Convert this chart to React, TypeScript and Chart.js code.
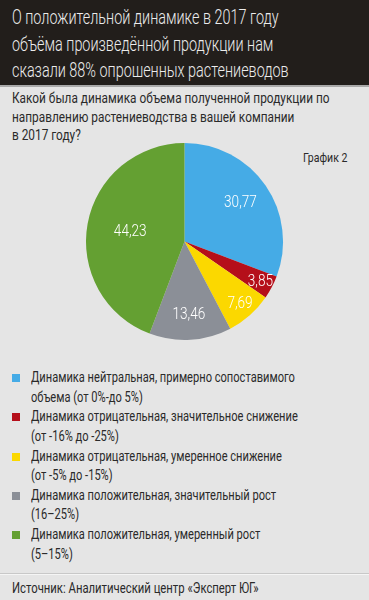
import React, { useEffect, useRef } from "react";
import { Chart, registerables } from "chart.js";

Chart.register(...registerables);

const titleLines = [
  "О положительной динамике в 2017 году",
  "объёма произведённой продукции нам",
  "сказали 88% опрошенных растениеводов",
];
const questionLines = [
  "Какой была динамика объема полученной продукции по",
  "направлению растениеводства в вашей компании",
  "в 2017 году?",
];
const chartLabel = "График 2";
const categories = [
  "Динамика нейтральная, примерно сопоставимого\nобъема (от 0%-до 5%)",
  "Динамика отрицательная, значительное снижение\n(от -16% до -25%)",
  "Динамика отрицательная, умеренное снижение\n(от -5% до -15%)",
  "Динамика положительная, значительный рост\n(16–25%)",
  "Динамика положительная, умеренный рост\n(5–15%)",
];
const values = [30.77, 3.85, 7.69, 13.46, 44.23];
const colors = ["#45abe6", "#b50f1a", "#fbd800", "#8b8f97", "#64a032"];
const source = "Источник: Аналитический центр «Эксперт ЮГ»";

const FONT = "Roboto, sans-serif";
const labelRadius = [0.69, 0.87, 0.85, 0.74, 0.56];

const valueLabels = {
  id: "valueLabels",
  afterDatasetsDraw(chart: any) {
    const ctx = chart.ctx;
    const meta = chart.getDatasetMeta(0);
    ctx.save();
    ctx.fillStyle = "#ffffff";
    ctx.font = "300 17px " + FONT;
    ctx.textAlign = "center";
    ctx.textBaseline = "middle";
    meta.data.forEach((arc: any, i: number) => {
      const { x, y, startAngle, endAngle, outerRadius } = arc.getProps(
        ["x", "y", "startAngle", "endAngle", "outerRadius"],
        true
      );
      const mid = (startAngle + endAngle) / 2;
      const r = outerRadius * labelRadius[i];
      const txt = values[i].toFixed(2).replace(".", ",");
      ctx.save();
      ctx.translate(x + Math.cos(mid) * r, y + Math.sin(mid) * r);
      ctx.scale(0.8, 1);
      ctx.fillText(txt, 0, 0);
      ctx.restore();
    });
    ctx.restore();
  },
};

const cond = (sx: number): React.CSSProperties => ({
  transform: `scaleX(${sx})`,
  transformOrigin: "left top",
  whiteSpace: "pre",
});

export default function App() {
  const ref = useRef<HTMLCanvasElement>(null);
  useEffect(() => {
    document.body.style.margin = "0";
    const chart = new Chart(ref.current!, {
      type: "pie",
      data: {
        labels: categories,
        datasets: [
          {
            data: values,
            backgroundColor: colors,
            borderWidth: 0,
          },
        ],
      },
      options: {
        animation: false,
        responsive: false,
        maintainAspectRatio: false,
        layout: { padding: 7 },
        plugins: {
          legend: { display: false },
          tooltip: { enabled: false },
        },
      },
      plugins: [valueLabels],
    });
    return () => chart.destroy();
  }, []);

  return (
    <div
      style={{
        position: "absolute",
        left: 0,
        top: 0,
        width: 369,
        height: 600,
        background: "#e5e5e5",
        fontFamily: FONT,
        overflow: "hidden",
      }}
    >
      <div
        style={{
          position: "absolute",
          left: 0,
          top: 0,
          width: 369,
          height: 85,
          background: "#221e1b",
          borderBottom: "2px solid #a9a9a9",
        }}
      >
        <div
          style={{
            position: "absolute",
            left: 12,
            top: 4,
            color: "#ececec",
            fontSize: 20,
            fontWeight: 300,
            lineHeight: "26.5px",
            ...cond(0.72),
          }}
        >
          {titleLines.join("\n")}
        </div>
      </div>
      <div
        style={{
          position: "absolute",
          left: 12,
          top: 89,
          color: "#2a2a2a",
          fontSize: 14.8,
          lineHeight: "18.5px",
          ...cond(0.8),
        }}
      >
        {questionLines.join("\n")}
      </div>
      <div
        style={{
          position: "absolute",
          left: 303,
          top: 149,
          color: "#2a2a2a",
          fontSize: 13.5,
          lineHeight: "16px",
          ...cond(0.78),
        }}
      >
        {chartLabel}
      </div>
      <canvas
        ref={ref}
        width={369}
        height={211}
        style={{ position: "absolute", left: 0, top: 136, width: 369, height: 211 }}
      />
      <div style={{ position: "absolute", left: 0, top: 368, width: 369 }}>
        {categories.map((c, i) => (
          <div
            key={i}
            style={{
              position: "relative",
              height: 39.3,
            }}
          >
            <span
              style={{
                position: "absolute",
                left: 12,
                top: 6,
                width: 8,
                height: 8,
                background: colors[i],
              }}
            />
            <div
              style={{
                position: "absolute",
                left: 31,
                top: 0,
                color: "#2a2a2a",
                fontSize: 15,
                lineHeight: "19.5px",
                ...cond(0.74),
              }}
            >
              {c}
            </div>
          </div>
        ))}
      </div>
      <div
        style={{
          position: "absolute",
          left: 0,
          top: 574,
          width: 369,
          height: 26,
          borderTop: "1px solid #f5f5f5",
          boxShadow: "0 -1px 0 #c8c8c8",
        }}
      >
        <div
          style={{
            position: "absolute",
            left: 12,
            top: 5,
            color: "#2a2a2a",
            fontSize: 14.5,
            lineHeight: "18px",
            ...cond(0.78),
          }}
        >
          {source}
        </div>
      </div>
    </div>
  );
}
